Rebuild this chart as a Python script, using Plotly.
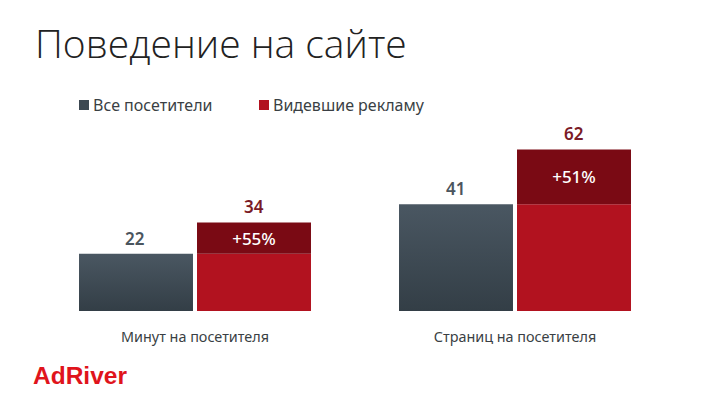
import plotly.graph_objects as go

categories = ['Минут на посетителя', 'Страниц на посетителя']
all_visitors = [22, 41]
ad_viewers = [34, 62]
uplift_labels = ['+55%', '+51%']
series_names = ['Все посетители', 'Видевшие рекламу']

W, H = 720, 405
FONT = 'Noto Sans'
GREY = '#3c4851'
RED = '#b2121f'
DARK_RED = '#7a0a14'


def px(x):
  return x / W


def py(y):
  return 1 - y / H


uplift = [b - a for a, b in zip(all_visitors, ad_viewers)]

fig = go.Figure()

fig.add_trace(go.Bar(x=categories, y=all_visitors, offsetgroup='all', name=series_names[0],
                     marker=dict(color=GREY, line=dict(width=0)), showlegend=False))
fig.add_trace(go.Bar(x=categories, y=all_visitors, offsetgroup='ad', name=series_names[1],
                     marker=dict(color=RED, line=dict(width=0)), showlegend=False))
# dark cap on top of the red bar, the difference between the two series
fig.add_trace(go.Bar(x=categories, y=uplift, base=all_visitors, offsetgroup='ad', name='Прирост',
                     marker=dict(color=DARK_RED, line=dict(width=0)), showlegend=False,
                     text=uplift_labels, textposition='inside', insidetextanchor='middle', textangle=0,
                     insidetextfont=dict(family=FONT, size=17, color='white', weight=500)))

annotations = []
# value labels above the bars
for cat, a, b in zip(categories, all_visitors, ad_viewers):
  annotations.append(dict(x=cat, y=a, xref='x', yref='y', text=str(a), showarrow=False, xshift=-60, yshift=2,
                          yanchor='bottom', font=dict(family=FONT, size=17, color='#4b555e', weight=600)))
  annotations.append(dict(x=cat, y=b, xref='x', yref='y', text=str(b), showarrow=False, xshift=59, yshift=2,
                          yanchor='bottom', font=dict(family=FONT, size=17, color='#7a1a26', weight=600)))

# title
annotations.append(dict(x=px(33), y=py(42), xref='paper', yref='paper', xanchor='left', yanchor='middle',
                        text='Поведение на сайте', showarrow=False,
                        font=dict(family='Open Sans', size=39, color='#222222', weight=300)))
# legend
annotations.append(dict(x=px(91), y=py(105), xref='paper', yref='paper', xanchor='left', yanchor='middle',
                        text=series_names[0], showarrow=False, font=dict(family=FONT, size=16, color='#3a3f44')))
annotations.append(dict(x=px(271), y=py(105), xref='paper', yref='paper', xanchor='left', yanchor='middle',
                        text=series_names[1], showarrow=False, font=dict(family=FONT, size=16, color='#3a3f44')))
# logo
annotations.append(dict(x=px(31), y=py(375), xref='paper', yref='paper', xanchor='left', yanchor='middle',
                        text='<b>AdRiver</b>', showarrow=False,
                        font=dict(family='Liberation Sans', size=24.5, color='#e0141c')))

shapes = [
  dict(type='rect', xref='paper', yref='paper', x0=px(79), x1=px(89), y0=py(110), y1=py(100),
       fillcolor=GREY, line=dict(width=0)),
  dict(type='rect', xref='paper', yref='paper', x0=px(259), x1=px(269), y0=py(110), y1=py(100),
       fillcolor=RED, line=dict(width=0)),
]

fig.update_layout(
  width=W, height=H,
  margin=dict(l=0, r=0, t=0, b=0),
  paper_bgcolor='white', plot_bgcolor='white',
  barmode='group', bargap=0.2625, bargroupgap=0.034,
  showlegend=False,
  annotations=annotations, shapes=shapes,
  xaxis=dict(domain=[px(35), px(675)], showgrid=False, zeroline=False, showline=False,
             ticks='outside', ticklen=13, tickcolor='rgba(0,0,0,0)',
             tickfont=dict(family=FONT, size=14.4, color='#3a3f44')),
  yaxis=dict(domain=[py(311), py(100)], range=[0, 81], visible=False),
)

# plotly bars can't do gradients, so put one on the grey bars after drawing
post_script = """
document.body.style.margin = '0';
var svg = document.querySelector('.main-svg');
var ns = 'http://www.w3.org/2000/svg';
var g = document.createElementNS(ns, 'linearGradient');
g.id = 'greybar';
g.setAttribute('x1', '0'); g.setAttribute('y1', '0'); g.setAttribute('x2', '0'); g.setAttribute('y2', '1');
[['0', '#4a5762'], ['1', '#333e46']].forEach(function(s) {
  var st = document.createElementNS(ns, 'stop');
  st.setAttribute('offset', s[0]); st.setAttribute('stop-color', s[1]);
  g.appendChild(st);
});
svg.querySelector('defs').appendChild(g);
document.querySelectorAll('.barlayer .trace')[0].querySelectorAll('path').forEach(function(p) {
  p.style.fill = 'url(#greybar)';
});
"""

fig.write_html("out.html", post_script=post_script, config=dict(displayModeBar=False))
